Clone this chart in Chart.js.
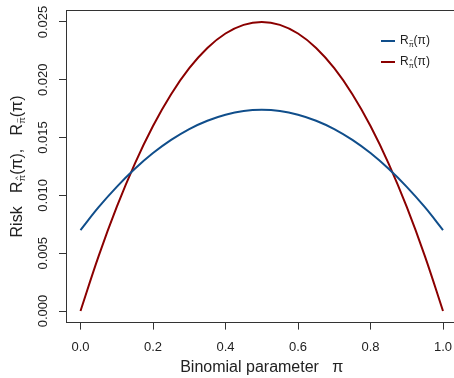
<!DOCTYPE html>
<html>
<head>
<meta charset="utf-8">
<script src="https://cdn.jsdelivr.net/npm/chart.js@4"></script>
<style>
html, body { margin: 0; padding: 0; background: #fff; overflow: hidden; }
#wrap { width: 458px; height: 378px; }
</style>
</head>
<body>
<div id="wrap"><canvas id="c" width="458" height="378"></canvas></div>
<script>
// values
var piValues = [0, 0.05, 0.1, 0.15, 0.2, 0.25, 0.3, 0.35, 0.4, 0.45, 0.5,
                0.55, 0.6, 0.65, 0.7, 0.75, 0.8, 0.85, 0.9, 0.95, 1];
var riskTilde = [0.00700, 0.00898, 0.01074, 0.01230, 0.01366, 0.01480, 0.01574, 0.01646, 0.01698, 0.01730, 0.01740,
                 0.01730, 0.01698, 0.01646, 0.01574, 0.01480, 0.01366, 0.01230, 0.01074, 0.00898, 0.00700];
var riskHat = [0, 0.00475, 0.00900, 0.01275, 0.01600, 0.01875, 0.02100, 0.02275, 0.02400, 0.02475, 0.02500,
               0.02475, 0.02400, 0.02275, 0.02100, 0.01875, 0.01600, 0.01275, 0.00900, 0.00475, 0];
var xTicks = [0, 0.2, 0.4, 0.6, 0.8, 1.0];
var xTickLabels = ['0.0', '0.2', '0.4', '0.6', '0.8', '1.0'];
var yTicks = [0, 0.005, 0.010, 0.015, 0.020, 0.025];
var yTickLabels = ['0.000', '0.005', '0.010', '0.015', '0.020', '0.025'];

var blue = '#104E8B';
var red = '#8B0000';
var FONT = '"Liberation Sans", Arial, sans-serif';

function toPoints(ys) {
    return piValues.map(function (p, i) { return { x: p, y: ys[i] }; });
}

// draws text pieces in a row; sub pieces are smaller, lowered, with an accent on top
function drawPieces(ctx, pieces, x, y, size) {
    pieces.forEach(function (pc) {
        var s = pc.sub ? size * 0.6 : size;
        ctx.font = s + 'px ' + FONT;
        var dy = pc.sub ? size * 0.3 : 0;
        ctx.fillText(pc.t, x, y + dy);
        var w = ctx.measureText(pc.t).width;
        if (pc.acc) {
            ctx.font = (s * 0.8) + 'px ' + FONT;
            var aw = ctx.measureText(pc.acc).width;
            ctx.fillText(pc.acc, x + (w - aw) / 2, y + dy - s * 0.55);
        }
        x += w;
    });
}
function piecesWidth(ctx, pieces, size) {
    var w = 0;
    pieces.forEach(function (pc) {
        var s = pc.sub ? size * 0.6 : size;
        ctx.font = s + 'px ' + FONT;
        w += ctx.measureText(pc.t).width;
    });
    return w;
}

var decor = {
    id: 'decor',
    afterDraw: function (chart) {
        var ctx = chart.ctx, a = chart.chartArea;
        var ys = chart.scales.y;
        ctx.save();
        // box
        ctx.strokeStyle = '#333';
        ctx.lineWidth = 1;
        ctx.strokeRect(Math.round(a.left) + 0.5, Math.round(a.top) + 0.5,
                       Math.round(a.right - a.left), Math.round(a.bottom - a.top));

        ctx.fillStyle = '#222';
        ctx.textBaseline = 'middle';
        // y tick labels, rotated like R does
        ctx.font = '13px ' + FONT;
        ctx.textAlign = 'center';
        yTicks.forEach(function (v, i) {
            ctx.save();
            ctx.translate(43.5, ys.getPixelForValue(v));
            ctx.rotate(-Math.PI / 2);
            ctx.fillText(yTickLabels[i], 0, 0);
            ctx.restore();
        });

        // x title
        ctx.font = '16px ' + FONT;
        ctx.fillText('Binomial parameter   \u03c0', (a.left + a.right) / 2, 368);

        // y title with subscripts
        ctx.textAlign = 'left';
        var yt = [{ t: 'Risk   R' }, { t: '\u03c0', sub: true, acc: '^' }, { t: '(\u03c0),   R' },
                  { t: '\u03c0', sub: true, acc: '~' }, { t: '(\u03c0)' }];
        var w = piecesWidth(ctx, yt, 16);
        ctx.save();
        ctx.translate(18, (a.top + a.bottom) / 2);
        ctx.rotate(-Math.PI / 2);
        drawPieces(ctx, yt, -w / 2, 0, 16);
        ctx.restore();

        // legend
        var items = [
            { c: blue, y: 41, p: [{ t: 'R' }, { t: '\u03c0', sub: true, acc: '~' }, { t: '(\u03c0)' }] },
            { c: red, y: 62, p: [{ t: 'R' }, { t: '\u03c0', sub: true, acc: '^' }, { t: '(\u03c0)' }] }
        ];
        items.forEach(function (it) {
            ctx.strokeStyle = it.c;
            ctx.lineWidth = 2;
            ctx.beginPath();
            ctx.moveTo(381, it.y);
            ctx.lineTo(395, it.y);
            ctx.stroke();
            ctx.fillStyle = '#222';
            drawPieces(ctx, it.p, 400, it.y, 12);
        });
        ctx.restore();
    }
};

new Chart(document.getElementById('c'), {
    type: 'line',
    data: {
        datasets: [
            { data: toPoints(riskTilde), borderColor: blue, borderWidth: 2, pointRadius: 0,
              tension: 0.4, fill: false },
            { data: toPoints(riskHat), borderColor: red, borderWidth: 2, pointRadius: 0,
              tension: 0.4, fill: false }
        ]
    },
    options: {
        responsive: false,
        animation: false,
        devicePixelRatio: 1,
        layout: { padding: { top: 10.4, right: 0.5, left: 0, bottom: 0 } },
        plugins: { legend: { display: false }, tooltip: { enabled: false } },
        scales: {
            x: {
                type: 'linear',
                min: -0.04,
                max: 1.04,
                afterBuildTicks: function (s) { s.ticks = xTicks.map(function (v) { return { value: v }; }); },
                afterFit: function (s) { s.height = 55.4; s.paddingLeft = 0; s.paddingRight = 0; },
                border: { display: false },
                grid: { drawOnChartArea: false, tickLength: 7, tickColor: '#333', color: '#333' },
                ticks: {
                    autoSkip: false, maxRotation: 0, padding: 10, color: '#222',
                    font: { family: FONT, size: 13 },
                    callback: function (v, i) { return xTickLabels[i]; }
                }
            },
            y: {
                min: -0.001,
                max: 0.026,
                afterBuildTicks: function (s) { s.ticks = yTicks.map(function (v) { return { value: v }; }); },
                afterFit: function (s) { s.width = 66; s.paddingTop = 0; s.paddingBottom = 0; },
                border: { display: false },
                grid: { drawOnChartArea: false, tickLength: 7, tickColor: '#333', color: '#333' },
                ticks: { display: false }
            }
        }
    },
    plugins: [decor]
});
</script>
</body>
</html>
